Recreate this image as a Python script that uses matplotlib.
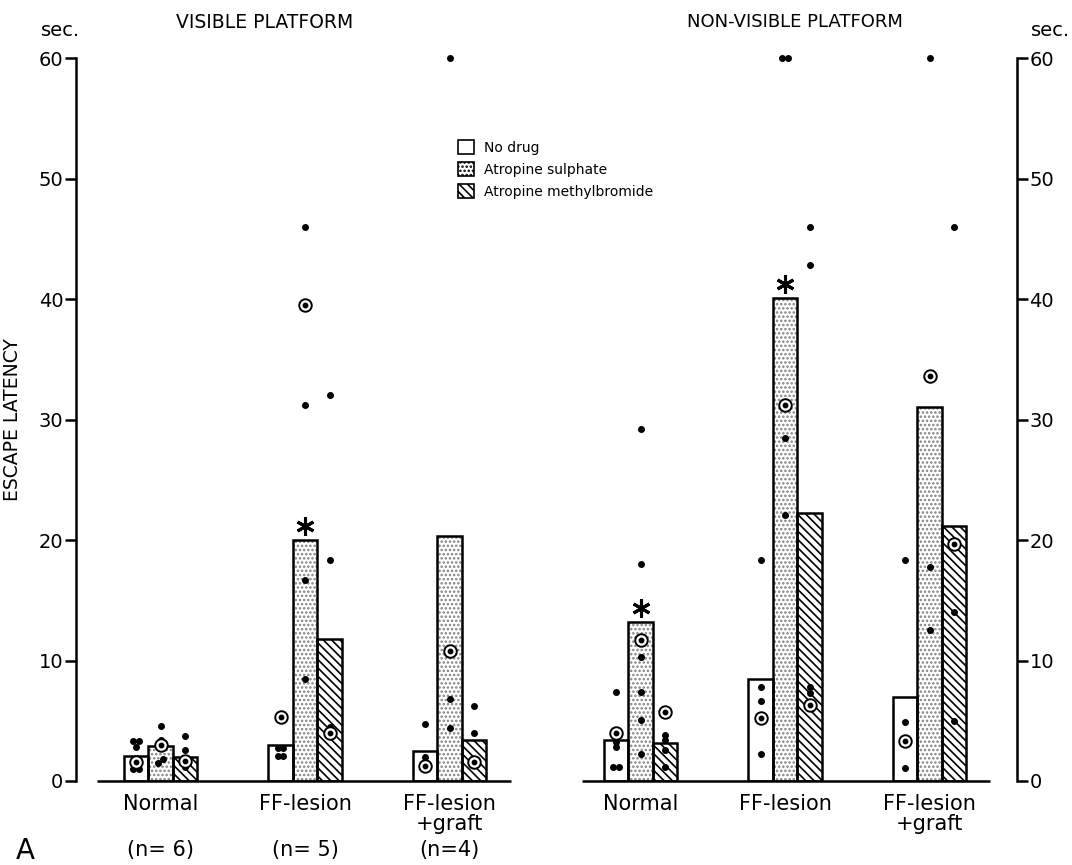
import matplotlib
matplotlib.use('Agg')
import matplotlib.pyplot as plt
import matplotlib.transforms as mtransforms
from matplotlib.patches import Patch

groups = ['Normal', 'FF-lesion', 'FF-lesion\n+graft']
group_n = ['(n= 6)', '(n= 5)', '(n=4)']
drugs = ['No drug', 'Atropine sulphate', 'Atropine methylbromide']
yticks = [0, 10, 20, 30, 40, 50, 60]

# bar heights, sec.
vis_no_drug = [2.1, 3.0, 2.5]
vis_sulphate = [2.9, 20.0, 20.3]
vis_methyl = [2.0, 11.8, 3.4]
nonvis_no_drug = [3.4, 8.5, 7.0]
nonvis_sulphate = [13.2, 40.1, 31.0]
nonvis_methyl = [3.15, 22.2, 21.2]

# individual animals (dots), per group
vis_no_drug_pts = [[3.3, 3.3, 2.8, 1.0, 1.0], [2.7, 2.7, 2.1, 2.1], [4.7, 2.0]]
vis_sulphate_pts = [[4.6, 3.4, 1.8, 1.5], [46.0, 31.2, 16.7, 8.5], [60.0, 6.8, 4.4]]
vis_methyl_pts = [[3.7, 2.6, 1.2], [32.0, 18.3, 4.5], [6.2, 4.0]]
nonvis_no_drug_pts = [[7.4, 3.2, 2.8, 1.2, 1.2], [18.3, 7.8, 6.6, 2.2], [18.3, 4.9, 1.1]]
nonvis_sulphate_pts = [[29.2, 18.0, 10.3, 7.4, 5.1, 2.2], [60.0, 60.0, 28.5, 22.1], [60.0, 17.8, 12.5]]
nonvis_methyl_pts = [[3.8, 3.4, 2.6, 1.2], [46.0, 42.8, 7.8, 7.3], [46.0, 14.0, 5.0]]

# circled points
vis_no_drug_mean = [1.6, 5.3, 1.25]
vis_sulphate_mean = [3.0, 39.5, 10.8]
vis_methyl_mean = [1.7, 4.0, 1.6]
nonvis_no_drug_mean = [4.0, 5.2, 3.3]
nonvis_sulphate_mean = [11.7, 31.2, 33.6]
nonvis_methyl_mean = [5.7, 6.3, 19.7]

# significance asterisks (atropine sulphate bars)
vis_star = [False, True, False]
nonvis_star = [True, True, False]

plt.rcParams['hatch.linewidth'] = 1.2

fig = plt.figure(figsize=(10.72, 8.65), dpi=100)
ax = fig.add_axes([76 / 1072, 84 / 865, 941 / 1072, 723 / 865])
ax.set_xlim(76, 1017)
ax.set_ylim(0, 60)

panel_first = [160.5, 640.5]
panel_lines = [(97, 511), (582, 990)]
step = 144.5
bar_w = 24.5
hatch_fill = [('', 'white'), ('....', '#808080'), ('\\\\\\\\', 'black')]


def spread(values, width=5.5, tol=0.35):
    order = sorted(range(len(values)), key=lambda k: values[k])
    offsets = [0.0] * len(values)
    clusters = []
    for k in order:
        if clusters and abs(values[k] - values[clusters[-1][-1]]) < tol:
            clusters[-1].append(k)
        else:
            clusters.append([k])
    for c in clusters:
        for j, k in enumerate(c):
            offsets[k] = (j - (len(c) - 1) / 2) * width
    return offsets


panels = [
    ([vis_no_drug, vis_sulphate, vis_methyl],
     [vis_no_drug_pts, vis_sulphate_pts, vis_methyl_pts],
     [vis_no_drug_mean, vis_sulphate_mean, vis_methyl_mean],
     vis_star),
    ([nonvis_no_drug, nonvis_sulphate, nonvis_methyl],
     [nonvis_no_drug_pts, nonvis_sulphate_pts, nonvis_methyl_pts],
     [nonvis_no_drug_mean, nonvis_sulphate_mean, nonvis_methyl_mean],
     nonvis_star),
]

star_trans = mtransforms.offset_copy(ax.transData, fig=fig, y=10, units='points')
label_trans = mtransforms.offset_copy(ax.transData, fig=fig, y=-9, units='points')
n_trans = mtransforms.offset_copy(ax.transData, fig=fig, y=-50, units='points')

for p, (bars, pts, means, stars) in enumerate(panels):
    centers = [panel_first[p] + i * step for i in range(len(groups))]
    ax.hlines(0, *panel_lines[p], color='black', lw=1.8, clip_on=False, zorder=5)

    for d, (hatch, hcol) in enumerate(hatch_fill):
        xs = [c + (d - 1) * bar_w for c in centers]
        ax.bar(xs, bars[d], width=bar_w, color='white', edgecolor=hcol,
               hatch=hatch, lw=0, zorder=2)
        ax.bar(xs, bars[d], width=bar_w, fill=False, edgecolor='black',
               lw=1.8, zorder=3)

        for g, x in enumerate(xs):
            vals = pts[d][g]
            offs = spread(vals)
            ax.plot([x + o for o in offs], vals, 'o', color='black', ms=4,
                    ls='none', clip_on=False, zorder=4)
            ax.plot(x, means[d][g], 'o', mfc='white', mec='black', ms=9,
                    mew=1.4, clip_on=False, zorder=4)
            ax.plot(x, means[d][g], 'o', color='black', ms=3.2,
                    clip_on=False, zorder=4)

            if d == 1 and stars[g]:
                ax.plot(x, bars[d][g], marker=(6, 2, 0), color='black', ms=13,
                        mew=2.2, transform=star_trans, clip_on=False, zorder=4)

    for g, c in enumerate(centers):
        ax.text(c, 0, groups[g], transform=label_trans, ha='center', va='top',
                fontsize=15, linespacing=1.0)
        if p == 0:
            ax.text(c, 0, group_n[g], transform=n_trans, ha='center',
                    va='center', fontsize=15)

for side in ['top', 'bottom']:
    ax.spines[side].set_visible(False)
for side in ['left', 'right']:
    ax.spines[side].set_linewidth(1.8)
    ax.spines[side].set_bounds(0, 60)

ax.set_xticks([])
ax.set_yticks(yticks)
ax.tick_params(axis='y', left=True, right=True, labelleft=True,
               labelright=True, direction='out', length=8, width=1.8,
               labelsize=14, pad=1)

handles = [Patch(facecolor='white', edgecolor='black', hatch=h, lw=1.2)
           for h, _ in hatch_fill]
fig.legend(handles, drugs, loc='upper left',
           bbox_to_anchor=(458 / 1072, 1 - 140 / 865), frameon=False,
           fontsize=10, handlelength=1.15, handleheight=1.15,
           handletextpad=0.7, labelspacing=0.55, borderpad=0,
           borderaxespad=0)

fig.text(265 / 1072, 1 - 22 / 865, 'VISIBLE PLATFORM', ha='center',
         va='center', fontsize=13.5)
fig.text(795 / 1072, 1 - 22 / 865, 'NON-VISIBLE PLATFORM', ha='center',
         va='center', fontsize=13)
fig.text(61 / 1072, 1 - 30 / 865, 'sec.', ha='center', va='center', fontsize=14)
fig.text(1050 / 1072, 1 - 30 / 865, 'sec.', ha='center', va='center', fontsize=14)
fig.text(13 / 1072, 1 - 420 / 865, 'ESCAPE LATENCY', rotation=90,
         ha='center', va='center', fontsize=13.5)
fig.text(25 / 1072, 0.016, 'A', ha='center', va='center', fontsize=20)

fig.savefig('out.png', dpi=100)
